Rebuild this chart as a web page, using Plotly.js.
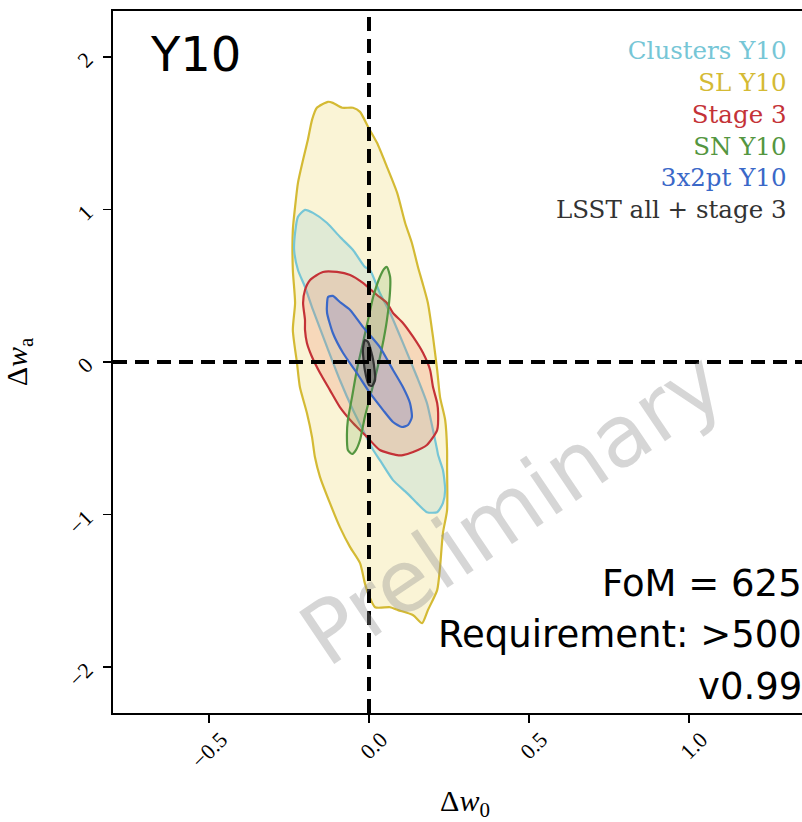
<!DOCTYPE html>
<html>
<head>
<meta charset="utf-8">
<script src="https://cdn.plot.ly/plotly-3.0.1.min.js"></script>
<style>
html,body{margin:0;padding:0;overflow:hidden;background:#fff;}
#chart{width:817px;height:822px;}
</style>
</head>
<body>
<div id="chart"></div>
<script>
// ---------- data ----------
const xTickVals = [-0.5, 0.0, 0.5, 1.0];
const yTickVals = [-2, -1, 0, 1, 2];
const xRange = [-0.8, 1.4];
const yRange = [-2.3, 2.3];
const fiducialW0 = 0;
const fiducialWa = 0;

const seriesNames = ["Clusters Y10", "SL Y10", "Stage 3", "SN Y10", "3x2pt Y10", "LSST all + stage 3"];

const slX = [-0.128,-0.113,-0.084,-0.050,-0.028,-0.003,0.025,0.056,0.088,0.113,0.134,0.153,0.169,0.184,0.200,0.213,0.222,0.238,0.244,0.244,0.244,0.231,0.222,0.213,0.184,0.166,0.138,0.091,0.066,0.019,-0.003,-0.013,-0.028,-0.059,-0.091,-0.122,-0.153,-0.169,-0.178,-0.194,-0.216,-0.225,-0.238,-0.231,-0.238,-0.238,-0.231,-0.222,-0.206,-0.191,-0.178,-0.163,-0.128];
const slY = [1.705,1.698,1.666,1.666,1.639,1.541,1.436,1.279,1.108,0.911,0.780,0.623,0.505,0.387,0.164,-0.052,-0.230,-0.380,-0.577,-0.689,-0.970,-1.121,-1.344,-1.495,-1.626,-1.711,-1.659,-1.626,-1.607,-1.607,-1.515,-1.449,-1.318,-1.213,-1.082,-0.925,-0.754,-0.623,-0.492,-0.334,-0.164,-0.007,0.210,0.387,0.603,0.866,1.016,1.174,1.325,1.456,1.587,1.666,1.705];

const clX = [-0.200,-0.175,-0.131,-0.091,-0.050,-0.013,0.003,0.034,0.066,0.106,0.150,0.181,0.200,0.213,0.216,0.231,0.238,0.231,0.213,0.181,0.150,0.119,0.075,0.034,0.013,-0.019,-0.050,-0.091,-0.131,-0.175,-0.200,-0.222,-0.234,-0.231,-0.222,-0.200];
const clY = [0.997,0.977,0.911,0.820,0.734,0.623,0.603,0.452,0.321,0.125,-0.098,-0.269,-0.446,-0.577,-0.610,-0.708,-0.839,-0.925,-0.984,-0.984,-0.925,-0.859,-0.774,-0.643,-0.577,-0.446,-0.315,-0.118,0.098,0.341,0.492,0.603,0.734,0.846,0.951,0.997];

const s3X = [-0.200,-0.184,-0.144,-0.100,-0.059,-0.019,0.025,0.056,0.075,0.106,0.138,0.169,0.191,0.200,0.213,0.216,0.213,0.181,0.138,0.106,0.088,0.034,-0.006,-0.050,-0.091,-0.122,-0.153,-0.178,-0.194,-0.200,-0.200,-0.206,-0.200];
const s3Y = [0.472,0.538,0.590,0.590,0.570,0.518,0.439,0.387,0.321,0.256,0.164,0.059,-0.052,-0.164,-0.269,-0.334,-0.446,-0.544,-0.590,-0.610,-0.610,-0.577,-0.492,-0.400,-0.295,-0.184,-0.072,0.033,0.125,0.210,0.275,0.387,0.472];

const snX = [0.056,0.066,0.066,0.056,0.041,0.025,0.009,-0.013,-0.028,-0.041,-0.053,-0.066,-0.069,-0.066,-0.053,-0.038,-0.019,-0.003,0.013,0.034,0.047,0.056];
const snY = [0.623,0.557,0.472,0.275,0.098,-0.052,-0.184,-0.361,-0.511,-0.577,-0.603,-0.577,-0.479,-0.380,-0.230,-0.052,0.125,0.275,0.426,0.557,0.610,0.623];

const ptX = [-0.128,-0.113,-0.091,-0.059,-0.019,0.034,0.075,0.106,0.128,0.134,0.122,0.103,0.075,0.044,0.003,-0.038,-0.081,-0.113,-0.131,-0.131,-0.128];
const ptY = [0.426,0.433,0.393,0.341,0.230,0.098,-0.052,-0.164,-0.269,-0.361,-0.413,-0.426,-0.393,-0.315,-0.203,-0.072,0.059,0.190,0.321,0.387,0.426];

const allX = [-0.013,-0.003,0.013,0.019,0.009,0.000,-0.013,-0.019,-0.013];
const allY = [0.144,0.131,0.013,-0.118,-0.157,-0.151,-0.052,0.079,0.144];

// ---------- styles ----------
const lineCol = {cl:"rgb(118,198,214)", sl:"rgb(212,186,52)", s3:"rgb(196,50,55)", sn:"rgb(84,150,64)", pt:"rgb(58,104,200)", all:"rgb(50,50,50)"};
const fillCol = {cl:"rgba(118,196,212,0.2)", sl:"rgba(240,220,120,0.3)", s3:"rgba(235,120,85,0.22)", sn:"rgba(110,170,80,0.2)", pt:"rgba(90,90,200,0.2)", all:"rgba(60,60,60,0.4)"};

function contour(x, y, key, name){
  return {type:"scatter", mode:"lines", x:x, y:y, name:name, fill:"toself",
          fillcolor:fillCol[key], line:{color:lineCol[key], width:2.2, shape:"spline", smoothing:0.6},
          hoverinfo:"skip", showlegend:false};
}

const traces = [
  contour(slX, slY, "sl", seriesNames[1]),
  contour(clX, clY, "cl", seriesNames[0]),
  contour(s3X, s3Y, "s3", seriesNames[2]),
  contour(snX, snY, "sn", seriesNames[3]),
  contour(ptX, ptY, "pt", seriesNames[4]),
  contour(allX, allY, "all", seriesNames[5])
];

const serif = "Liberation Serif, DejaVu Serif, serif";
const legendSerif = "DejaVu Serif, serif";
const sans = "DejaVu Sans, sans-serif";
const W = 817, H = 822, mL = 113, mR = 0, mT = 11, mB = 109;
const pw = W - mL - mR, ph = H - mT - mB;
const px2x = p => (p - mL) / pw;
const px2y = p => (H - mB - p) / ph;

const legendCols = [lineCol.cl, lineCol.sl, lineCol.s3, lineCol.sn, lineCol.pt, "#333333"];
const legendText = seriesNames.map((n, i) => '<span style="color:' + legendCols[i] + '">' + n + '</span>').join("<br>");

const annotations = [];
annotations.push({xref:"paper", yref:"paper", x:px2x(788), y:px2y(35), xanchor:"right", yanchor:"top", align:"right",
  text:legendText, showarrow:false, borderpad:0, font:{family:legendSerif, size:24.5, color:"#333"}});
annotations.push({xref:"paper", yref:"paper", x:px2x(148), y:px2y(54), xanchor:"left", yanchor:"middle",
  text:"Y10", showarrow:false, font:{family:sans, size:48, color:"#000"}});
const infoLines = ["FoM = 625", "Requirement: >500", "v0.99"];
const infoPx = [583, 634, 686];
infoLines.forEach((t, i) => {
  annotations.push({xref:"paper", yref:"paper", x:px2x(803), y:px2y(infoPx[i]), xanchor:"right", yanchor:"middle",
    text:t, showarrow:false, borderpad:0, font:{family:sans, size:37, color:"#000"}});
});
annotations.push({xref:"paper", yref:"paper", x:px2x(512), y:px2y(508), xanchor:"center", yanchor:"middle",
  text:"Preliminary", textangle:-34, showarrow:false, font:{family:sans, size:86, color:"rgba(140,140,140,0.36)"}});

const layout = {
  width: W, height: H,
  margin: {l:mL, r:mR, t:mT, b:mB, pad:0},
  paper_bgcolor:"#fff", plot_bgcolor:"#fff",
  showlegend:false,
  xaxis: {range:xRange, tickvals:xTickVals, tickformat:".1f", ticks:"outside", ticklen:8, tickwidth:1.5, tickcolor:"#000",
    showline:true, linecolor:"#000", linewidth:2, mirror:true, showgrid:false, zeroline:false,
    tickangle:-45, tickfont:{family:serif, size:22, color:"#000"}, ticklabelshift:12, ticklabelstandoff:-5,
    title:{text:"Δ<i>w</i><sub>0</sub>", font:{family:serif, size:30, color:"#000"}, standoff:20}},
  yaxis: {range:yRange, tickvals:yTickVals, tickformat:".0f", ticks:"outside", ticklen:8, tickwidth:1.5, tickcolor:"#000",
    showline:true, linecolor:"#000", linewidth:2, mirror:false, showgrid:false, zeroline:false,
    tickangle:-45, tickfont:{family:serif, size:22, color:"#000"}, ticklabelstandoff:12,
    title:{text:"Δ<i>w</i><sub>a</sub>", font:{family:serif, size:30, color:"#000"}, standoff:27}},
  shapes: [
    {type:"line", xref:"x", yref:"paper", x0:fiducialW0, x1:fiducialW0, y0:0, y1:1, line:{color:"#000", width:4, dash:"14px,8px"}},
    {type:"line", xref:"paper", yref:"y", x0:0, x1:1, y0:fiducialWa, y1:fiducialWa, line:{color:"#000", width:4, dash:"14px,8px"}}
  ],
  annotations: annotations
};

Plotly.newPlot("chart", traces, layout, {displayModeBar:false, staticPlot:true});
</script>
</body>
</html>
